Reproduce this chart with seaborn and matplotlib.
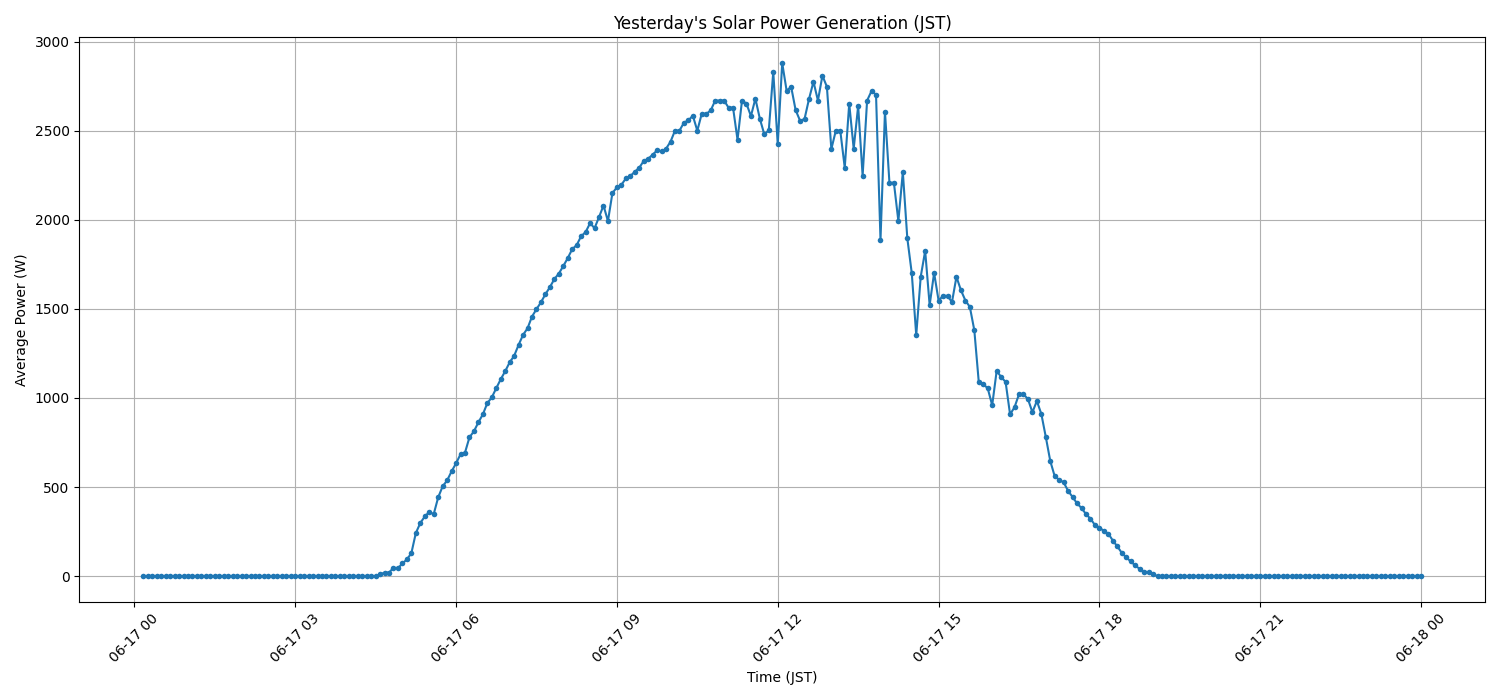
import pandas as pd
import numpy as np
import matplotlib
matplotlib.use("Agg")
from matplotlib import pyplot as plt
import matplotlib.dates as mdates
import seaborn as sns

# 5 minute averages, 00:10 -> 24:00 (287 samples)
start_time = "2024-06-17 00:10"
step = "5min"

night_before = [0, 0, 0, 0, 0, 0, 0, 0, 0, 0, 0, 0, 0, 0, 0, 0, 0, 0,
                0, 0, 0, 0, 0, 0, 0, 0, 0, 0, 0, 0, 0, 0, 0, 0, 0, 0,
                0, 0, 0, 0, 0, 0, 0, 0, 0, 0, 0, 0, 0, 0, 0, 0, 0]

daytime = [10, 20, 20, 47, 45, 71, 94, 129, 242, 298, 335, 360, 348, 442,
           504, 537, 588, 633, 684, 693, 779, 813, 863, 908, 971, 1003, 1055,
           1105, 1150, 1200, 1236, 1298, 1354, 1391, 1457, 1498, 1537, 1582,
           1622, 1667, 1698, 1740, 1785, 1835, 1858, 1908, 1931, 1981, 1953,
           2015, 2080, 1993, 2150, 2182, 2196, 2232, 2246, 2269, 2292, 2330,
           2343, 2365, 2390, 2384, 2399, 2438, 2500, 2500, 2545, 2558, 2584,
           2500, 2596, 2594, 2614, 2669, 2669, 2669, 2629, 2629, 2449, 2669,
           2652, 2582, 2680, 2567, 2479, 2502, 2831, 2424, 2880, 2723, 2747,
           2616, 2556, 2566, 2678, 2775, 2669, 2809, 2747, 2397, 2500, 2500,
           2292, 2652, 2399, 2639, 2247, 2669, 2723, 2702, 1887, 2607, 2208,
           2208, 1993, 2268, 1897, 1700, 1352, 1680, 1826, 1521, 1702, 1547,
           1573, 1573, 1538, 1680, 1605, 1547, 1511, 1380, 1088, 1078, 1054,
           959, 1152, 1118, 1090, 908, 948, 1021, 1021, 994, 920, 983, 910,
           781, 646, 560, 541, 526, 478, 444, 408, 382, 348, 322, 287, 273,
           253, 238, 200, 167, 131, 105, 83, 60, 41, 21, 22, 11]

night_after = [0, 0, 0, 0, 0, 0, 0, 0, 0, 0, 0, 0, 0, 0, 0, 0, 0, 0, 0, 0,
               0, 0, 0, 0, 0, 0, 0, 0, 0, 0, 0, 0, 0, 0, 0, 0, 0, 0, 0, 0,
               0, 0, 0, 0, 0, 0, 0, 0, 0, 0, 0, 0, 0, 0, 0, 0, 0, 0, 0, 0]

power = night_before + daytime + night_after
times = pd.date_range(start_time, periods=len(power), freq=step)
df = pd.DataFrame({"time": times, "power": power})

fig, ax = plt.subplots(figsize=(15, 7), dpi=100)
sns.lineplot(data=df, x="time", y="power", marker="o", markersize=4,
             markeredgewidth=0, color="#1f77b4", linewidth=1.5, ax=ax)

ax.xaxis.set_major_locator(mdates.HourLocator(byhour=range(0, 24, 3)))
ax.xaxis.set_major_formatter(mdates.DateFormatter("%m-%d %H"))
plt.xticks(rotation=45)
ax.grid(True)
ax.set_title("Yesterday's Solar Power Generation (JST)")
ax.set_xlabel("Time (JST)")
ax.set_ylabel("Average Power (W)")

plt.tight_layout()
plt.savefig("out.png")
